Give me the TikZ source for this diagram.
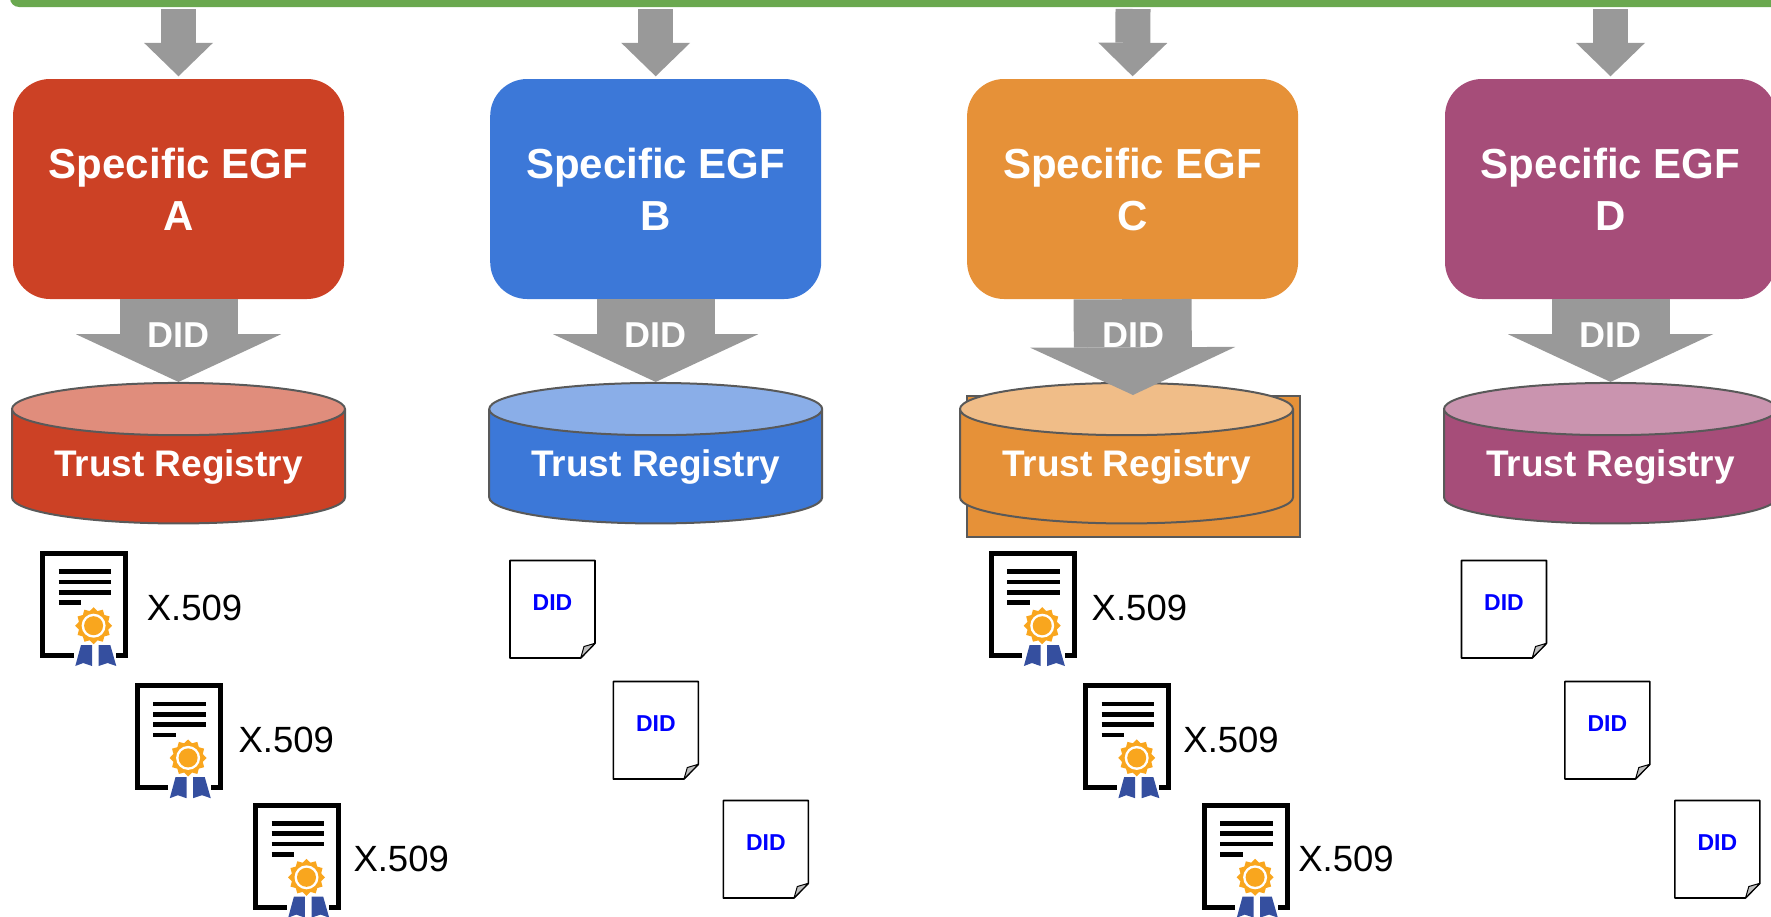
\documentclass[tikz,border=0pt]{standalone}
\usepackage{fontspec}
\setmainfont{Liberation Sans}
\usetikzlibrary{arrows.meta}
\usetikzlibrary{shapes.geometric}
\definecolor{egf_red}{HTML}{CC4125}
\definecolor{egf_blue}{HTML}{3C78D8}
\definecolor{egf_orange}{HTML}{E69138}
\definecolor{egf_purple}{HTML}{A64D79}
\definecolor{seal_orange}{HTML}{F9A61E}
\definecolor{ribbon_blue}{HTML}{354F9F}
\begin{document}
\begin{tikzpicture}[x=1pt, y=-1pt,
        bar_style/.style={rectangle,fill=black!0,minimum width=1800pt,minimum height=47pt,rounded corners=9pt},
        egf_style/.style={rectangle,fill=#1,text=white,rounded corners=37pt,minimum width=331pt,minimum height=220pt,inner sep=0pt,align=center,font=\fontsize{42}{52}\selectfont\bfseries},
        reg_style/.style={cylinder,shape border rotate=90,aspect=0.21,draw=black!65,line width=2pt,cylinder uses custom fill,cylinder body fill=#1,cylinder end fill=#1!60!white,minimum width=333pt,minimum height=140.5pt,inner sep=0pt,text=white,font=\fontsize{37}{44}\selectfont\bfseries},
        feed_style/.style={draw=black!40,line width=35pt,shorten >=2.5pt,-{Triangle[length=33.5pt,width=69pt,line width=0pt]}},
        did_edge_style/.style={draw=black!40,line width=118pt,-{Triangle[length=47.7pt,width=205pt,line width=0pt]}},
        did_label_style/.style={text=white,inner sep=0pt,font=\fontsize{36}{40}\selectfont\bfseries},
        x509_style/.style={anchor=west,inner sep=0pt,font=\fontsize{36.5}{40}\selectfont},
        cert_pic/.pic={
            \draw [line width=5pt] (33.3,104.5) -- (2.5,104.5) -- (2.5,2.5) -- (85.2,2.5) -- (85.2,104.5) -- (76,104.5);
            \draw [line width=4.7pt] (18.3,20.7) -- (70.7,20.7);
            \draw [line width=4.7pt] (18.3,31) -- (70.7,31);
            \draw [line width=4.7pt] (18.3,41.3) -- (70.7,41.3);
            \draw [line width=4.7pt] (18.3,51.7) -- (40.7,51.7);
            \fill [ribbon_blue] (40.7,94) -- (51.7,94) -- (51.7,115) -- (43,112) -- (35,115) -- cycle;
            \fill [ribbon_blue] (58.3,94) -- (70,94) -- (76,115) -- (67.3,112) -- (58.3,115) -- cycle;
            \node [star,star points=12,star point ratio=1.22,fill=seal_orange,minimum size=37pt,inner sep=0pt](-seal) at (53.3,74.7) {};
            \fill [white] (53.3,74.7) circle (12);
            \fill [seal_orange] (53.3,74.7) circle (9.5);
        },
        did_doc/.pic={
            \draw [fill=white,line width=1.6pt,line join=round] (0,0) -- (85,0) -- (85,82.8) -- (70.7,97.5) -- (0,97.5) -- cycle;
            \draw [fill=black!25,line width=1pt,line join=round] (70.7,97.5) -- (74,86) -- (85,82.8) -- cycle;
            \node [text=blue,inner sep=0pt,font=\fontsize{23}{26}\selectfont\bfseries](-text) at (42.5,41.7) {DID};
        }]

        \useasboundingbox (0,0) rectangle (1771,916);
        \clip (0,0) rectangle (1771,916);

        \node [bar_style,fill=green!50!black,fill={rgb,255:red,106;green,168;blue,79}](bar) at (910,-16.5) {};
        \coordinate (feedA) at (178.5,9);
        \coordinate (feedB) at (655.7,9);
        \coordinate (feedC) at (1133,9);
        \coordinate (feedD) at (1610.5,9);

        \node [egf_style=egf_red](egfA) at (178.5,189) {Specific EGF\\A};
        \node [egf_style=egf_blue](egfB) at (655.7,189) {Specific EGF\\B};
        \node [egf_style=egf_orange](egfC) at (1132.6,189) {Specific EGF\\C};
        \node [egf_style=egf_purple](egfD) at (1610.5,189) {Specific EGF\\D};

        \node [reg_style=egf_red](regA) at (178.5,466.75) {Trust Registry};
        \node [reg_style=egf_blue](regB) at (655.7,466.75) {Trust Registry};
        \node [reg_style=egf_orange](regC_back) at (1133,466.75) {};
        \node [reg_style=egf_orange](regC) at (1126.5,466.75) {Trust Registry};
        \node [reg_style=egf_purple](regD) at (1610.5,466.75) {Trust Registry};

        \draw [feed_style] (feedA) -- (egfA.north);
        \draw [feed_style] (feedB) -- (egfB.north);
        \draw [feed_style] (feedC) -- (egfC.north);
        \draw [feed_style] (feedD) -- (egfD.north);

        \draw [did_edge_style] (egfA.south) -- (regA.north);
        \draw [did_edge_style] (egfB.south) -- (regB.north);
        \draw [did_edge_style] (egfC.south) -- (regC_back.north);
        \draw [did_edge_style] (egfD.south) -- (regD.north);

        \node [did_label_style](didA) at (178.5,334.7) {DID};
        \node [did_label_style](didB) at (655.7,334.7) {DID};
        \node [did_label_style](didC) at (1133,334.7) {DID};
        \node [did_label_style](didD) at (1610.5,334.7) {DID};

        \pic (certA1) at (40.3,551) {cert_pic};
        \pic (certA2) at (134.8,683.2) {cert_pic};
        \pic (certA3) at (253.2,802.6) {cert_pic};
        \node [x509_style](x509A1) at (146.7,607.9) {X.509};
        \node [x509_style](x509A2) at (238.4,739.7) {X.509};
        \node [x509_style](x509A3) at (353.3,858.6) {X.509};

        \pic (docB1) at (510,560.5) {did_doc};
        \pic (docB2) at (613.3,681.5) {did_doc};
        \pic (docB3) at (723.3,800.5) {did_doc};

        \pic (certC1) at (988.9,551) {cert_pic};
        \pic (certC2) at (1083.4,683.2) {cert_pic};
        \pic (certC3) at (1201.8,802.6) {cert_pic};
        \node [x509_style](x509C1) at (1091.5,607.9) {X.509};
        \node [x509_style](x509C2) at (1183.2,739.7) {X.509};
        \node [x509_style](x509C3) at (1298.1,858.6) {X.509};

        \pic (docD1) at (1461.5,560.5) {did_doc};
        \pic (docD2) at (1564.8,681.5) {did_doc};
        \pic (docD3) at (1674.8,800.5) {did_doc};
\end{tikzpicture}
\end{document}
